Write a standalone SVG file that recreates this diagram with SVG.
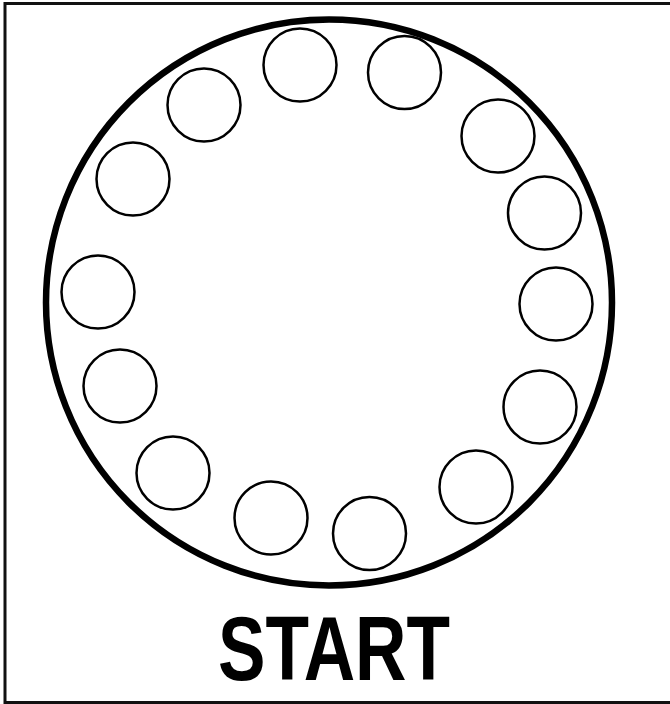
<svg xmlns="http://www.w3.org/2000/svg" width="670" height="704" viewBox="0 0 670 704">
<style>
.frame{fill:none;stroke:#111;stroke-width:3}
.dial{fill:none;stroke:#000;stroke-width:6.5}
.hole{fill:#fff;stroke:#000;stroke-width:2.5}
.label{font-family:"Liberation Sans",Arial,sans-serif;font-weight:bold;font-size:90px;fill:#000}
</style>
<rect width="670" height="704" fill="#fff"/>
<rect class="frame" x="5" y="3.5" width="690" height="699"/>
<g id="dial"><circle class="dial" cx="329" cy="302.5" r="283"/></g>
<g id="holes">
<g id="h1"><circle class="hole" cx="300" cy="65" r="36.5"/></g>
<g id="h2"><circle class="hole" cx="404.5" cy="72.5" r="36.5"/></g>
<g id="h3"><circle class="hole" cx="498" cy="136" r="36.5"/></g>
<g id="h4"><circle class="hole" cx="544.5" cy="213" r="36.5"/></g>
<g id="h5"><circle class="hole" cx="556" cy="304" r="36.5"/></g>
<g id="h6"><circle class="hole" cx="540" cy="407" r="36.5"/></g>
<g id="h7"><circle class="hole" cx="476" cy="487" r="36.5"/></g>
<g id="h8"><circle class="hole" cx="369.5" cy="533.5" r="36.5"/></g>
<g id="h9"><circle class="hole" cx="271" cy="518" r="36.5"/></g>
<g id="h10"><circle class="hole" cx="173" cy="473" r="36.5"/></g>
<g id="h11"><circle class="hole" cx="120" cy="386" r="36.5"/></g>
<g id="h12"><circle class="hole" cx="98" cy="292" r="36.5"/></g>
<g id="h13"><circle class="hole" cx="133" cy="179" r="36.5"/></g>
<g id="h14"><circle class="hole" cx="204" cy="105" r="36.5"/></g>
</g>
<g id="connectors"></g>
<g id="start"><text class="label" x="334" y="680" text-anchor="middle" textLength="232" lengthAdjust="spacingAndGlyphs">START</text></g>
</svg>
